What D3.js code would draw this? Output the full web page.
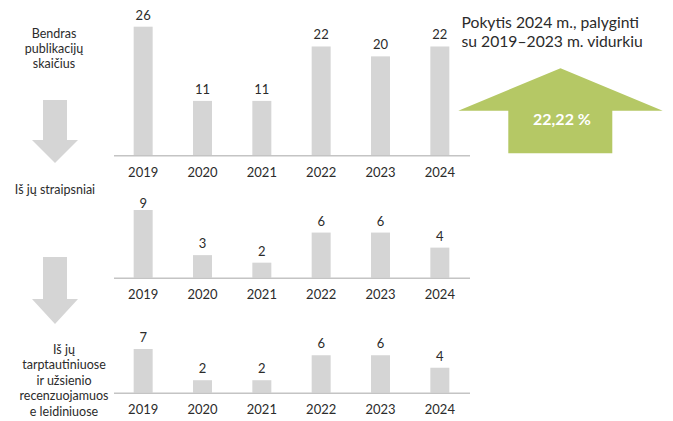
<!DOCTYPE html>
<html><head><meta charset="utf-8">
<script src="https://cdn.jsdelivr.net/npm/d3@7"></script>
<style>
html,body{margin:0;padding:0;background:#fff;}
svg{display:block;font-family:Lato, "Noto Sans", sans-serif;}
</style></head>
<body><svg id="c" width="673" height="421"></svg>
<script>
const years = ["2019","2020","2021","2022","2023","2024"];
const totalPublications = [26, 11, 11, 22, 20, 22];
const articles = [9, 3, 2, 6, 6, 4];
const internationalArticles = [7, 2, 2, 6, 6, 4];
const panelLabels = [
  ["Bendras", "publikacijų", "skaičius"],
  ["Iš jų straipsniai"],
  ["Iš jų", "tarptautiniuose", "ir užsienio", "recenzuojamuos", "e leidiniuose"]
];
const changeTitle = ["Pokytis 2024 m., palyginti", "su 2019–2023 m. vidurkiu"];
const changeValue = "22,22 %";

const svg = d3.select("#c");
const barColor = "#d5d5d5";
const textColor = "#2b2b2b";
const green = "#b5c865";

const x = d3.scaleBand().domain(years).range([113.5, 469.5]).paddingInner(0.68).paddingOuter(0.34);

const panels = [
  {values: totalPublications, base: 155.3, top: 26.7, minLabel: 15, label: panelLabels[0], lx: 54, ly: 33, lh: 15},
  {values: articles, base: 277.7, top: 210, minLabel: 203, label: panelLabels[1], lx: 55, ly: 189, lh: 15},
  {values: internationalArticles, base: 392.7, top: 349, minLabel: 336.5, label: panelLabels[2], lx: 64, ly: 349.5, lh: 15.4}
];

panels.forEach(p => {
  const y = d3.scaleLinear().domain([0, d3.max(p.values)]).range([p.base, p.top]);
  const g = svg.append("g");
  g.selectAll("rect").data(p.values).join("rect")
    .attr("x", (d,i) => x(years[i]))
    .attr("width", x.bandwidth())
    .attr("y", d => y(d))
    .attr("height", d => y(0) - y(d))
    .attr("fill", barColor);
  g.selectAll("text.v").data(p.values).join("text").attr("class","v")
    .attr("x", (d,i) => x(years[i]) + x.bandwidth()/2)
    .attr("y", d => Math.max(y(d) - 12, p.minLabel))
    .attr("text-anchor","middle").attr("dominant-baseline","central")
    .attr("font-size", 13).attr("fill", textColor)
    .text(d => d);
  const ax = g.append("g").attr("transform", `translate(0,${p.base})`)
    .call(d3.axisBottom(x).tickSize(0).tickPadding(12.5).tickSizeOuter(0));
  ax.select(".domain").attr("stroke", "#c4c4c4").attr("stroke-width", 1.5);
  ax.selectAll("text").attr("font-size", 13).attr("fill", textColor).attr("font-family", "Lato, sans-serif");
  g.selectAll("text.l").data(p.label).join("text").attr("class","l")
    .attr("x", p.lx).attr("y", (d,i) => p.ly + i*p.lh)
    .attr("text-anchor","middle").attr("dominant-baseline","central")
    .attr("font-size", 12.5).attr("fill", textColor).text(d => d);
});

function downArrow(cx, top, neck, tip) {
  const sw = 12, hw = 23;
  return `M${cx-sw},${top}L${cx+sw},${top}L${cx+sw},${neck}L${cx+hw},${neck}L${cx},${tip}L${cx-hw},${neck}L${cx-sw},${neck}Z`;
}
svg.append("path").attr("d", downArrow(55, 100, 140, 163)).attr("fill", barColor);
svg.append("path").attr("d", downArrow(55, 257, 299, 324)).attr("fill", barColor);

svg.append("g").selectAll("text").data(changeTitle).join("text")
  .attr("x", 461.5).attr("y", (d,i) => 22 + i*18.5)
  .attr("dominant-baseline","central")
  .attr("font-size", 15.7).attr("fill", textColor).text(d => d);

const ga = {cx: 560.5, tip: 68.3, neck: 110.7, bottom: 153.3, hl: 458.3, hr: 662.7, sl: 508.3, sr: 612.3};
svg.append("path")
  .attr("d", `M${ga.cx},${ga.tip}L${ga.hr},${ga.neck}L${ga.sr},${ga.neck}L${ga.sr},${ga.bottom}L${ga.sl},${ga.bottom}L${ga.sl},${ga.neck}L${ga.hl},${ga.neck}Z`)
  .attr("fill", green);
svg.append("text").attr("x", 562).attr("y", 118.3)
  .attr("text-anchor","middle").attr("dominant-baseline","central")
  .attr("font-size", 16).attr("font-weight","bold").attr("fill","#fff").text(changeValue);
</script></body></html>
